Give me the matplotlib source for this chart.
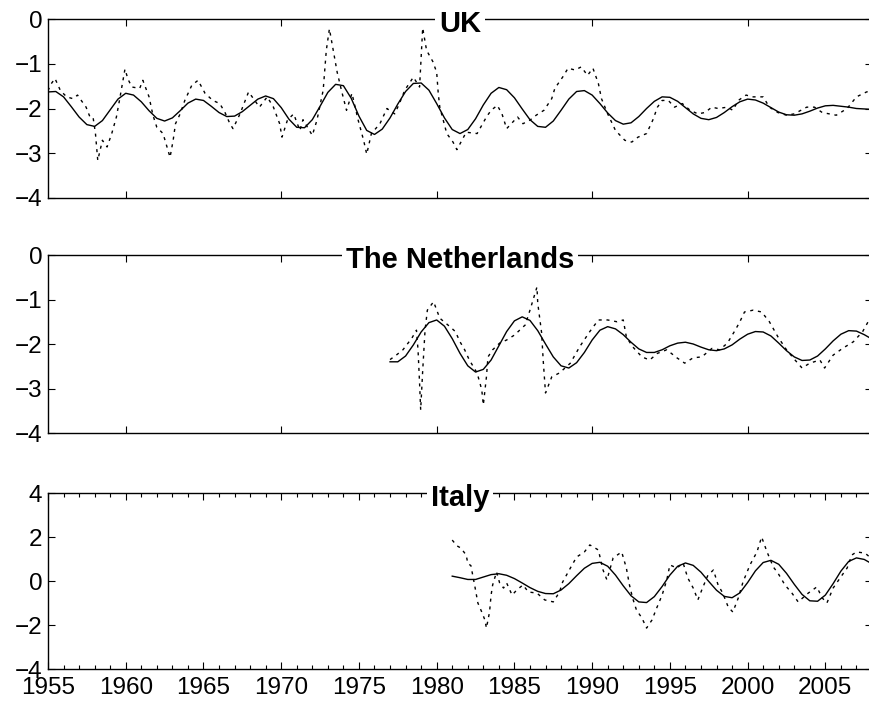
import numpy as np
import matplotlib
matplotlib.use("Agg")
import matplotlib.pyplot as plt
from matplotlib.ticker import FixedLocator, MultipleLocator

plt.rcParams['font.family'] = ['Liberation Sans', 'DejaVu Sans']

# --- smooth (cycle) components, half-year grid ---
uk_cycle_years = np.arange(1955.0, 2008.01, 0.5)
uk_cycle = [-1.63, -1.62, -1.74, -1.96, -2.19, -2.36, -2.40, -2.27, -2.03, -1.79,
            -1.66, -1.70, -1.85, -2.05, -2.22, -2.28, -2.21, -2.05, -1.88, -1.79,
            -1.82, -1.95, -2.09, -2.18, -2.17, -2.07, -1.93, -1.79, -1.72, -1.78,
            -1.98, -2.24, -2.42, -2.43, -2.25, -1.95, -1.64, -1.46, -1.49, -1.77,
            -2.17, -2.49, -2.58, -2.46, -2.21, -1.90, -1.62, -1.44, -1.43, -1.59,
            -1.89, -2.21, -2.47, -2.56, -2.47, -2.23, -1.92, -1.66, -1.53, -1.58,
            -1.76, -2.01, -2.25, -2.40, -2.42, -2.28, -2.04, -1.79, -1.62, -1.60,
            -1.70, -1.89, -2.10, -2.27, -2.35, -2.32, -2.18, -2.00, -1.84, -1.74,
            -1.75, -1.84, -1.98, -2.12, -2.22, -2.25, -2.20, -2.09, -1.96, -1.85,
            -1.79, -1.81, -1.88, -1.98, -2.08, -2.14, -2.15, -2.12, -2.06, -1.99,
            -1.94, -1.93, -1.95, -1.97, -2.00, -2.01, -2.02]

nl_cycle_years = np.arange(1977.0, 2008.01, 0.5)
nl_cycle = [-2.40, -2.40, -2.27, -2.02, -1.73, -1.52, -1.46, -1.60, -1.88, -2.21,
            -2.49, -2.63, -2.57, -2.36, -2.04, -1.72, -1.48, -1.39, -1.47, -1.70,
            -2.00, -2.29, -2.49, -2.54, -2.42, -2.19, -1.91, -1.69, -1.61, -1.66,
            -1.79, -1.96, -2.11, -2.19, -2.19, -2.13, -2.04, -1.98, -1.96, -2.00,
            -2.07, -2.13, -2.15, -2.11, -2.02, -1.89, -1.78, -1.72, -1.73, -1.82,
            -1.98, -2.15, -2.29, -2.37, -2.36, -2.27, -2.11, -1.93, -1.78, -1.70,
            -1.71, -1.79, -1.89]

it_cycle_years = np.arange(1981.0, 2008.01, 0.5)
it_cycle = [0.22, 0.15, 0.07, 0.07, 0.18, 0.29, 0.33, 0.26, 0.11, -0.09,
            -0.30, -0.47, -0.57, -0.58, -0.41, -0.12, 0.24, 0.58, 0.80, 0.85,
            0.67, 0.27, -0.22, -0.67, -0.95, -0.98, -0.71, -0.25, 0.27, 0.67,
            0.82, 0.71, 0.40, -0.02, -0.42, -0.70, -0.76, -0.54, -0.07, 0.46,
            0.84, 0.94, 0.76, 0.35, -0.15, -0.61, -0.90, -0.92, -0.64, -0.12,
            0.45, 0.89, 1.05, 0.98, 0.78]

# --- raw (dotted) series ---
uk_raw_years = [1955.0, 1955.2, 1955.45, 1955.8, 1956.2, 1956.6, 1956.9, 1957.2, 1957.45, 1957.7,
                1957.9, 1958.05, 1958.2, 1958.5, 1958.8, 1959.1, 1959.4, 1959.6, 1959.95, 1960.15,
                1960.4, 1960.9, 1961.1, 1961.5, 1961.75, 1962.0, 1962.4, 1962.85, 1963.05, 1963.2,
                1963.5, 1963.8, 1964.25, 1964.65, 1965.1, 1965.6, 1966.05, 1966.4, 1966.7, 1966.9,
                1967.35, 1967.9, 1968.3, 1968.6, 1969.1, 1969.5, 1969.9, 1970.05, 1970.4, 1970.8,
                1971.2, 1971.4, 1972.0, 1972.3, 1972.7, 1972.9, 1973.1, 1973.35, 1973.6, 1973.9,
                1974.2, 1974.55, 1974.95, 1975.3, 1975.5, 1975.8, 1976.35, 1976.8, 1977.3, 1977.6,
                1977.95, 1978.5, 1978.9, 1979.1, 1979.35, 1979.75, 1980.0, 1980.1, 1980.2, 1980.65,
                1981.05, 1981.3, 1981.9, 1982.6, 1983.2, 1983.5, 1983.9, 1984.2, 1984.5, 1985.2,
                1985.55, 1986.0, 1986.4, 1986.9, 1987.4, 1987.6, 1988.1, 1988.45, 1988.9, 1989.3,
                1989.7, 1990.05, 1990.4, 1990.6, 1991.0, 1991.5, 1992.1, 1992.55, 1992.95, 1993.5,
                1993.9, 1994.2, 1994.5, 1994.9, 1995.3, 1995.8, 1996.3, 1996.8, 1997.25, 1997.7,
                1998.1, 1998.7, 1999.05, 1999.4, 1999.9, 2000.3, 2001.0, 2001.4, 2001.95, 2002.5,
                2003.0, 2003.8, 2004.3, 2004.8, 2005.7, 2006.4, 2007.0, 2007.65, 2008.0]
uk_raw = [-1.60, -1.45, -1.33, -1.60, -1.74, -1.78, -1.70, -1.85, -1.97, -2.19,
          -2.20, -2.55, -3.16, -2.71, -2.86, -2.56, -2.19, -1.81, -1.12, -1.35,
          -1.52, -1.55, -1.37, -1.74, -2.15, -2.42, -2.56, -3.09, -2.71, -2.34,
          -2.12, -1.82, -1.48, -1.37, -1.66, -1.82, -1.89, -2.10, -2.34, -2.45,
          -2.12, -1.63, -1.82, -1.97, -1.74, -1.97, -2.34, -2.64, -2.26, -2.12,
          -2.49, -2.25, -2.60, -2.26, -1.59, -0.70, -0.22, -0.70, -1.19, -1.63,
          -2.04, -1.66, -2.26, -2.71, -3.02, -2.56, -2.34, -2.00, -2.12, -1.89,
          -1.59, -1.30, -1.52, -0.20, -0.70, -0.95, -1.19, -1.66, -1.97, -2.56,
          -2.75, -2.92, -2.53, -2.56, -2.19, -2.04, -1.93, -2.12, -2.45, -2.19,
          -2.34, -2.26, -2.15, -2.04, -1.78, -1.55, -1.30, -1.10, -1.14, -1.07,
          -1.26, -1.10, -1.44, -1.78, -2.12, -2.49, -2.71, -2.75, -2.64, -2.56,
          -2.26, -1.97, -1.82, -1.82, -1.97, -1.89, -2.04, -2.12, -2.09, -1.97,
          -2.00, -1.97, -2.04, -1.82, -1.70, -1.74, -1.74, -1.97, -2.09, -2.15,
          -2.12, -1.97, -1.97, -2.09, -2.15, -2.00, -1.74, -1.63, -1.60]

nl_raw_years = [1977.0, 1977.4, 1977.83, 1978.4, 1978.7, 1978.8, 1978.9, 1978.97, 1979.1, 1979.25,
                1979.4, 1979.8, 1980.2, 1980.85, 1981.2, 1981.5, 1981.8, 1982.1, 1982.6, 1982.9,
                1983.0, 1983.2, 1983.3, 1983.6, 1984.05, 1984.5, 1985.0, 1985.7, 1986.0, 1986.45,
                1986.5, 1986.75, 1986.85, 1987.0, 1987.4, 1987.9, 1988.6, 1989.2, 1989.85, 1990.4,
                1991.0, 1991.6, 1992.0, 1992.2, 1992.6, 1993.2, 1993.7, 1994.2, 1994.8, 1995.45,
                1995.95, 1996.5, 1997.05, 1997.7, 1998.2, 1998.7, 1999.2, 1999.5, 1999.8, 2000.35,
                2000.9, 2001.4, 2001.95, 2002.5, 2003.05, 2003.5, 2004.0, 2004.65, 2004.95, 2005.5,
                2006.1, 2006.8, 2007.4, 2007.75, 2008.0]
nl_raw = [-2.35, -2.25, -2.13, -1.87, -1.69, -2.13, -2.88, -3.48, -2.60, -1.70,
          -1.24, -1.05, -1.42, -1.61, -1.72, -1.95, -2.13, -2.36, -2.65, -3.03,
          -3.37, -2.74, -2.29, -2.13, -1.98, -1.91, -1.80, -1.57, -1.24, -0.72,
          -1.08, -1.75, -2.36, -3.10, -2.74, -2.65, -2.43, -2.06, -1.72, -1.46,
          -1.46, -1.50, -1.46, -1.84, -2.06, -2.29, -2.36, -2.21, -2.13, -2.31,
          -2.43, -2.31, -2.29, -2.10, -2.13, -1.98, -1.69, -1.50, -1.28, -1.24,
          -1.28, -1.50, -1.84, -2.13, -2.36, -2.54, -2.43, -2.36, -2.54, -2.25,
          -2.10, -1.95, -1.72, -1.50, -1.45]

it_raw_years = [1981.0, 1981.3, 1981.55, 1981.9, 1982.0, 1982.2, 1982.46, 1982.65, 1982.9, 1983.1,
                1983.2, 1983.4, 1983.5, 1983.6, 1983.85, 1984.05, 1984.3, 1984.5, 1984.85, 1985.15,
                1985.55, 1985.9, 1986.45, 1986.95, 1987.5, 1987.9, 1988.1, 1988.6, 1989.0, 1989.5,
                1989.85, 1990.4, 1990.7, 1990.95, 1991.35, 1991.9, 1992.2, 1992.4, 1992.6, 1992.85,
                1993.2, 1993.5, 1993.85, 1994.15, 1994.5, 1994.8, 1995.0, 1995.45, 1995.85, 1996.15,
                1996.5, 1996.8, 1997.1, 1997.45, 1997.8, 1998.1, 1998.4, 1998.75, 1999.05, 1999.4,
                1999.7, 2000.15, 2000.6, 2000.9, 2001.25, 2001.65, 2001.95, 2002.4, 2002.85, 2003.25,
                2003.9, 2004.45, 2004.8, 2005.1, 2005.5, 2005.95, 2006.4, 2006.7, 2007.0, 2007.55,
                2008.0]
it_raw = [1.86, 1.60, 1.50, 1.18, 0.80, 0.70, -0.26, -1.00, -1.41, -1.77,
          -2.14, -1.41, -0.64, -0.18, 0.41, -0.09, -0.32, -0.09, -0.64, -0.41,
          -0.18, -0.50, -0.55, -0.86, -0.95, -0.50, -0.05, 0.59, 1.09, 1.32,
          1.64, 1.41, 0.50, 0.05, 1.05, 1.32, 0.59, -0.18, -0.77, -1.32,
          -1.68, -2.14, -1.77, -1.23, -0.64, 0.05, 0.73, 0.59, 0.82, 0.14,
          -0.32, -0.86, -0.32, 0.27, 0.50, -0.18, -0.55, -1.18, -1.41, -0.77,
          -0.05, 0.73, 1.32, 2.00, 1.32, 0.64, 0.36, -0.18, -0.55, -0.95,
          -0.55, -0.27, -0.77, -1.00, -0.32, 0.14, 0.59, 1.18, 1.32, 1.27,
          1.00]

titles = ["UK", "The Netherlands", "Italy"]

W, H = 870, 707
fig = plt.figure(figsize=(W / 100, H / 100), dpi=100)

left = 48 / W
width = (872 - 48) / W
# (top px, bottom px) of each panel
panel_px = [(19, 198), (255, 433), (493, 669)]

panels = [
    (uk_cycle_years, uk_cycle, uk_raw_years, uk_raw, (-4, 0), [-4, -3, -2, -1, 0]),
    (nl_cycle_years, nl_cycle, nl_raw_years, nl_raw, (-4, 0), [-4, -3, -2, -1, 0]),
    (it_cycle_years, it_cycle, it_raw_years, it_raw, (-4, 4), [-4, -2, 0, 2, 4]),
]

for i, (cy, cv, ry, rv, ylim, yticks) in enumerate(panels):
    top, bot = panel_px[i]
    ax = fig.add_axes([left, 1 - bot / H, width, (bot - top) / H])
    # raw series, matlab-ish ':' look
    ax.plot(ry, rv, color='black', lw=1.0, linestyle=(0, (2.2, 3.4)))
    ax.plot(cy, cv, color='black', lw=1.0)
    ax.set_xlim(1955, 2008)
    ax.set_ylim(*ylim)
    ax.set_yticks(yticks)
    for sp in ax.spines.values():
        sp.set_linewidth(1.0)
    ax.tick_params(axis='both', which='both', direction='in', top=True, right=True,
                   labelsize=17.5, pad=4)
    ax.tick_params(axis='both', which='major', length=5, width=0.8)
    if i < 2:
        ax.xaxis.set_major_locator(FixedLocator([1960, 1970, 1980, 1990, 2000]))
        ax.set_xticklabels([])
    else:
        ax.xaxis.set_major_locator(MultipleLocator(5))
        ax.xaxis.set_minor_locator(MultipleLocator(1))
        ax.tick_params(axis='x', which='minor', length=3, width=0.8)
        ax.tick_params(axis='x', which='major', pad=6)
        ax.set_xticks(np.arange(1955, 2006, 5))
        ax.set_xticklabels([str(y) for y in range(1955, 2006, 5)])
    ax.annotate(titles[i], xy=(0.5, 1.0), xycoords='axes fraction',
                xytext=(0, -9.5), textcoords='offset points',
                ha='center', va='baseline', fontsize=21, fontweight='bold',
                bbox=dict(boxstyle='square,pad=0.12', fc='white', ec='none'),
                zorder=5)

fig.savefig("out.png", dpi=100)
